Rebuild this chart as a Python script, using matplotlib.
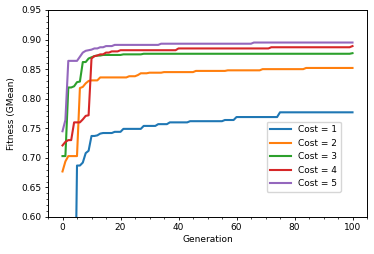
import matplotlib
matplotlib.use("Agg")
import matplotlib.pyplot as plt
from matplotlib.ticker import AutoMinorLocator, MultipleLocator

generations = list(range(101))

cost1 = ([0.30] * 5 +
         [0.687, 0.687, 0.692, 0.708, 0.712, 0.737, 0.737, 0.738, 0.741] +
         [0.742] * 4 + [0.744] * 3 + [0.749] * 7 + [0.754] * 5 +
         [0.757] * 4 + [0.760] * 7 + [0.762] * 12 + [0.764] * 4 +
         [0.769] * 15 + [0.777] * 26)

cost2 = ([0.677, 0.694, 0.703, 0.703, 0.703, 0.703, 0.818, 0.820, 0.826, 0.830] +
         [0.831] * 3 + [0.836] * 10 + [0.838] * 3 + [0.840] +
         [0.843] * 3 + [0.844] * 5 + [0.845] * 11 + [0.847] * 11 +
         [0.848] * 12 + [0.850] * 15 + [0.852] * 17)

cost3 = ([0.703, 0.703, 0.819, 0.819, 0.821, 0.828, 0.829, 0.862, 0.862,
          0.868, 0.870, 0.872, 0.873, 0.873] +
         [0.874] * 7 + [0.875] * 7 + [0.876] * 72 + [0.877])

cost4 = ([0.721, 0.727, 0.730, 0.730, 0.760, 0.760, 0.760, 0.765, 0.771,
          0.772, 0.868, 0.872, 0.873, 0.875, 0.875, 0.878, 0.878] +
         [0.880] * 3 + [0.882] * 20 + [0.885] * 32 + [0.887] * 28 + [0.889])

cost5 = ([0.745, 0.764, 0.864, 0.864, 0.864, 0.864, 0.871, 0.878, 0.881,
          0.882, 0.883, 0.885, 0.885, 0.887, 0.887, 0.889, 0.889, 0.889] +
         [0.891] * 16 + [0.893] * 32 + [0.895] * 35)

series = [cost1, cost2, cost3, cost4, cost5]
labels = ["Cost = 1", "Cost = 2", "Cost = 3", "Cost = 4", "Cost = 5"]
colors = ["#1f77b4", "#ff7f0e", "#2ca02c", "#d62728", "#9467bd"]

plt.rcParams["font.family"] = ["DejaVu Sans"]
fs = 6.5

fig = plt.figure(figsize=(3.74, 2.54), dpi=100)
ax = fig.add_axes([48 / 374, 1 - 217 / 254, (367 - 48) / 374, (217 - 10) / 254])

for vals, lab, col in zip(series, labels, colors):
    ax.plot(generations, vals, color=col, lw=1.5, label=lab)

ax.set_xlim(-5, 105)
ax.set_ylim(0.60, 0.95)
ax.xaxis.set_major_locator(MultipleLocator(20))
ax.yaxis.set_major_locator(MultipleLocator(0.05))
ax.xaxis.set_minor_locator(AutoMinorLocator(4))
ax.yaxis.set_minor_locator(AutoMinorLocator(5))
ax.tick_params(which="major", length=2.5, width=0.6, labelsize=fs, pad=2)
ax.tick_params(which="minor", length=1.5, width=0.5)
for s in ax.spines.values():
    s.set_linewidth(0.7)

ax.set_xlabel("Generation", fontsize=fs, labelpad=2)
ax.set_ylabel("Fitness (GMean)", fontsize=fs, labelpad=4)

ax.legend(loc="lower right", bbox_to_anchor=(0.918, 0.121), borderaxespad=0,
          fontsize=fs, handlelength=2.3, labelspacing=0.5)

fig.savefig("out.png", dpi=100)
